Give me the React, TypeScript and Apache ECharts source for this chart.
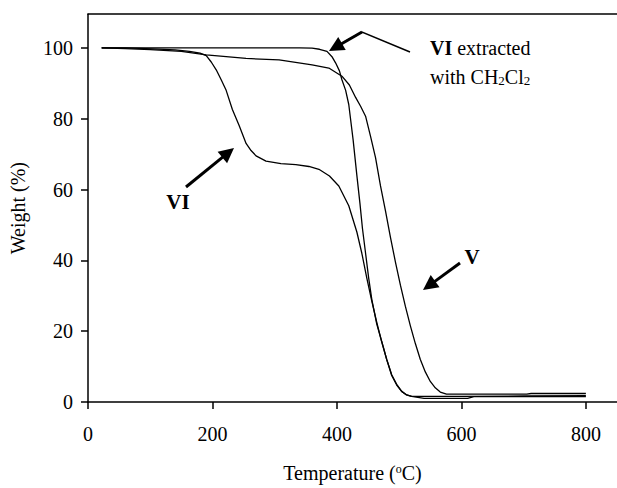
import React, { useEffect, useRef } from "react";
import * as echarts from "echarts";

// Series V
const T_V = [22, 60, 100, 150, 190, 254, 307, 360, 387, 408, 420, 430, 438, 446, 454, 462, 470, 478, 486, 494, 502, 510, 518, 526, 534, 542, 550, 558, 566, 576, 650, 705, 712, 800];
const W_V = [100, 99.8, 99.5, 99, 98, 97, 96.6, 95.2, 94.3, 92, 89.5, 86, 83.5, 80.7, 75, 69, 61, 54, 46.5, 39.5, 33, 27, 21.5, 16.5, 12, 8.5, 5.8, 4, 2.8, 2.2, 2.2, 2.2, 2.4, 2.4];

// Series VI
const T_VI = [22, 60, 104, 140, 163, 180, 190, 198, 206, 214, 222, 232, 243, 254, 262, 270, 286, 310, 334, 355, 371, 388, 403, 419, 432, 440, 448, 456, 464, 472, 480, 488, 496, 504, 512, 520, 600, 700, 800];
const W_VI = [100, 100, 99.7, 99.4, 99, 98.5, 97.8, 96, 93.8, 91, 88, 82.6, 78, 73, 71, 69.5, 68, 67.3, 67, 66.5, 65.7, 63.8, 61, 55.4, 48, 42, 35, 28.5, 22.5, 17, 12, 7.5, 4.8, 3, 2, 1.6, 1.6, 1.7, 1.8];

// Series VI extracted with CH2Cl2
const T_EX = [22, 100, 200, 300, 340, 360, 372, 384, 392, 398, 404, 408, 414, 419, 426, 432, 437, 441, 446, 451, 456, 464, 472, 480, 488, 496, 504, 512, 520, 540, 610, 620, 800];
const W_EX = [100, 100, 100, 100, 100, 99.9, 99.6, 99, 97.5, 95.7, 93.5, 91, 88, 84, 74, 64, 56, 49, 42, 35, 29, 22, 17, 12, 7.7, 5, 3, 2, 1.6, 1.0, 1.0, 1.5, 1.5];

const X_TICKS = [0, 200, 400, 600, 800];
const Y_TICKS = [0, 20, 40, 60, 80, 100];

const FONT = "Liberation Serif";

function arrow(tail: number[], tip: number[], headLen = 15, headHalf = 7.5) {
  const dx = tip[0] - tail[0];
  const dy = tip[1] - tail[1];
  const len = Math.sqrt(dx * dx + dy * dy);
  const ux = dx / len;
  const uy = dy / len;
  const bx = tip[0] - ux * headLen;
  const by = tip[1] - uy * headLen;
  const px = -uy;
  const py = ux;
  return [
    {
      type: "line",
      shape: { x1: tail[0], y1: tail[1], x2: bx + ux * 2, y2: by + uy * 2 },
      style: { stroke: "#000", lineWidth: 3 },
      z: 100,
    },
    {
      type: "polygon",
      shape: {
        points: [
          [tip[0], tip[1]],
          [bx + px * headHalf, by + py * headHalf],
          [bx - px * headHalf, by - py * headHalf],
        ],
      },
      style: { fill: "#000" },
      z: 100,
    },
  ];
}

export default function App() {
  const ref = useRef<HTMLDivElement>(null);
  useEffect(() => {
    document.body.style.margin = "0";
    const chart = echarts.init(ref.current!, null, { renderer: "svg" });
    const lineStyle = { color: "#000", width: 1.3 };
    const mk = (ts: number[], ws: number[]) => ts.map((t, i) => [t, ws[i]]);
    chart.setOption({
      animation: false,
      backgroundColor: "#fff",
      grid: { left: 88, top: 14.2, width: 531.25, height: 389.8 },
      xAxis: [
        {
          type: "value",
          min: 0,
          max: 850,
          interval: 200,
          position: "bottom",
          axisLine: { show: true, onZero: false, lineStyle: { color: "#000", width: 1.5 } },
          axisTick: { show: true, inside: false, length: 7, customValues: X_TICKS, lineStyle: { color: "#000", width: 1.5 } },
          axisLabel: { customValues: X_TICKS, fontFamily: FONT, fontSize: 20, color: "#000", margin: 22 },
          splitLine: { show: false },
          name: "Temperature ({sup|o}C)",
          nameLocation: "middle",
          nameGap: 61,
          nameTextStyle: {
            fontFamily: FONT,
            fontSize: 20,
            color: "#000",
            rich: { sup: { fontFamily: FONT, fontSize: 12, color: "#000", verticalAlign: "top", lineHeight: 20 } },
          },
        },
        {
          type: "value",
          min: 0,
          max: 850,
          position: "top",
          axisLine: { show: true, onZero: false, lineStyle: { color: "#000", width: 1.5 } },
          axisTick: { show: false },
          axisLabel: { show: false },
          splitLine: { show: false },
        },
      ],
      yAxis: {
        type: "value",
        min: 0,
        max: 109.5,
        interval: 20,
        axisLine: { show: true, onZero: false, lineStyle: { color: "#000", width: 1.5 } },
        axisTick: { show: true, inside: false, length: 7, customValues: Y_TICKS, lineStyle: { color: "#000", width: 1.5 } },
        axisLabel: { customValues: Y_TICKS, fontFamily: FONT, fontSize: 20, color: "#000", margin: 15 },
        splitLine: { show: false },
        name: "Weight (%)",
        nameLocation: "middle",
        nameGap: 60,
        nameTextStyle: { fontFamily: FONT, fontSize: 20, color: "#000" },
      },
      series: [
        { name: "V", type: "line", symbol: "none", lineStyle, data: mk(T_V, W_V) },
        { name: "VI", type: "line", symbol: "none", lineStyle, data: mk(T_VI, W_VI) },
        { name: "VI extracted with CH2Cl2", type: "line", symbol: "none", lineStyle, data: mk(T_EX, W_EX) },
      ],
      graphic: [
        ...arrow([186, 187], [234, 148]),
        ...arrow([460, 263], [423, 290]),
        {
          type: "polyline",
          shape: { points: [[410, 52], [362, 32], [345, 41.5]] },
          style: { stroke: "#000", lineWidth: 1.5, fill: null },
          z: 100,
        },
        ...arrow([362, 32], [329, 51]),
        {
          type: "text",
          x: 178,
          y: 202,
          style: { text: "VI", fontFamily: FONT, fontSize: 21, fontWeight: "bold", fill: "#000", align: "center", verticalAlign: "middle" },
          z: 100,
        },
        {
          type: "text",
          x: 472,
          y: 257,
          style: { text: "V", fontFamily: FONT, fontSize: 21, fontWeight: "bold", fill: "#000", align: "center", verticalAlign: "middle" },
          z: 100,
        },
        {
          type: "text",
          x: 430,
          y: 48,
          style: {
            text: "{b|VI} extracted",
            fontFamily: FONT,
            fontSize: 20,
            fill: "#000",
            align: "left",
            verticalAlign: "middle",
            rich: { b: { fontFamily: FONT, fontSize: 20, fontWeight: "bold", fill: "#000" } },
          },
          z: 100,
        },
        {
          type: "text",
          x: 430,
          y: 77,
          style: {
            text: "with CH{s|2}Cl{s|2}",
            fontFamily: FONT,
            fontSize: 20,
            fill: "#000",
            align: "left",
            verticalAlign: "middle",
            rich: { s: { fontFamily: FONT, fontSize: 13, fill: "#000", verticalAlign: "bottom", lineHeight: 20 } },
          },
          z: 100,
        },
      ],
    });
    return () => chart.dispose();
  }, []);
  return <div ref={ref} style={{ width: 617, height: 488 }} />;
}
